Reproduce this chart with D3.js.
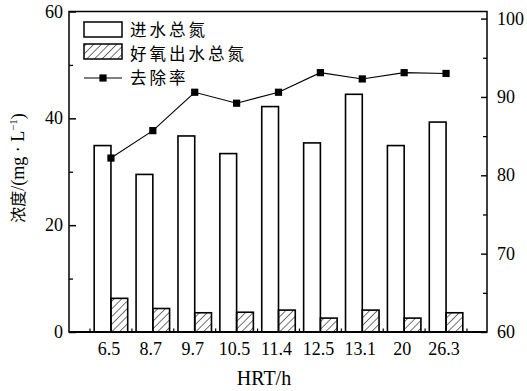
<!DOCTYPE html>
<html><head><meta charset="utf-8">
<script src="https://cdn.jsdelivr.net/npm/d3@7"></script>
<style>
html,body{margin:0;padding:0;background:#fff;}
svg{display:block;}
text{font-family:"Liberation Serif","Times New Roman",serif;fill:#000;}
.cjk{font-family:"Noto Sans CJK SC","Noto Sans CJK JP",sans-serif;}
</style></head>
<body>
<svg id="chart" width="527" height="391"></svg>
<script>
const categories = ["6.5","8.7","9.7","10.5","11.4","12.5","13.1","20","26.3"];
const influentTN = [34.9, 29.5, 36.7, 33.4, 42.2, 35.4, 44.5, 34.9, 39.3];
const aerobicTN = [6.3, 4.4, 3.6, 3.7, 4.1, 2.6, 4.1, 2.6, 3.6];
const removalRate = [82.2, 85.7, 90.6, 89.2, 90.6, 93.1, 92.3, 93.1, 93.0];
const leftTicks = [0, 20, 40, 60];
const leftMinor = [10, 30, 50];
const rightTicks = [60, 70, 80, 90, 100];
const rightMinor = [65, 75, 85, 95];
const seriesNames = ["进水总氮", "好氧出水总氮", "去除率"];

const svg = d3.select("#chart");
const L = 69, R = 487, T = 11.5, B = 332;

const defs = svg.append("defs");
defs.append("pattern").attr("id","hatch").attr("patternUnits","userSpaceOnUse")
  .attr("width",5.4).attr("height",10).attr("patternTransform","rotate(45)")
  .append("line").attr("x1",0).attr("y1",0).attr("x2",0).attr("y2",10)
  .attr("stroke","#000").attr("stroke-width",1.1);

const x = d3.scaleBand().domain(categories).range([90, 467]).padding(0);
const yL = d3.scaleLinear().domain([0, 60]).range([B, T]);
const yR = d3.scaleLinear().domain([60, 100]).range([B, 18.6]);
const bw = x.bandwidth() * 0.4;

// bars
const g = svg.append("g");
g.selectAll(".b1").data(categories).join("rect")
  .attr("x", d => x(d) + x.bandwidth()/2 - bw)
  .attr("y", (d,i) => yL(influentTN[i]))
  .attr("width", bw).attr("height", (d,i) => B - yL(influentTN[i]))
  .attr("fill","#fff").attr("stroke","#000").attr("stroke-width",1.6);
g.selectAll(".b2").data(categories).join("rect")
  .attr("x", d => x(d) + x.bandwidth()/2)
  .attr("y", (d,i) => yL(aerobicTN[i]))
  .attr("width", bw).attr("height", (d,i) => B - yL(aerobicTN[i]))
  .attr("fill","url(#hatch)").attr("stroke","#000").attr("stroke-width",1.6);

// line
const line = d3.line().x((d,i) => x(categories[i]) + x.bandwidth()/2).y(d => yR(d));
svg.append("path").datum(removalRate).attr("d", line)
  .attr("fill","none").attr("stroke","#000").attr("stroke-width",1.1);
svg.selectAll(".pt").data(removalRate).join("rect")
  .attr("x",(d,i) => x(categories[i]) + x.bandwidth()/2 - 3.6)
  .attr("y", d => yR(d) - 3.6).attr("width",7.2).attr("height",7.2).attr("fill","#000");

// frame
svg.append("rect").attr("x",L).attr("y",T).attr("width",R-L).attr("height",B-T)
  .attr("fill","none").attr("stroke","#000").attr("stroke-width",1.5);
svg.append("line").attr("x1",L).attr("x2",R).attr("y1",B).attr("y2",B)
  .attr("stroke","#000").attr("stroke-width",2.2);

// left axis (inward ticks)
const axL = svg.append("g").attr("transform",`translate(${L},0)`)
  .call(d3.axisRight(yL).tickValues(leftTicks).tickSize(7).tickFormat(""));
axL.select(".domain").remove();
axL.selectAll("line").attr("stroke-width",1.5);
svg.append("g").attr("transform",`translate(${L},0)`)
  .call(d3.axisRight(yL).tickValues(leftMinor).tickSize(4).tickFormat(""))
  .call(a => a.select(".domain").remove()).selectAll("line").attr("stroke-width",1.3);
svg.selectAll(".ll").data(leftTicks).join("text")
  .attr("x", L - 6).attr("y", d => yL(d) + 6).attr("text-anchor","end")
  .attr("font-size",18).text(d => d);

// right axis (inward ticks)
svg.append("g").attr("transform",`translate(${R},0)`)
  .call(d3.axisLeft(yR).tickValues(rightTicks).tickSize(6).tickFormat(""))
  .call(a => a.select(".domain").remove()).selectAll("line").attr("stroke-width",1.4);
svg.append("g").attr("transform",`translate(${R},0)`)
  .call(d3.axisLeft(yR).tickValues(rightMinor).tickSize(4).tickFormat(""))
  .call(a => a.select(".domain").remove()).selectAll("line").attr("stroke-width",1.3);
svg.selectAll(".rl").data(rightTicks).join("text")
  .attr("x", R + 10).attr("y", d => yR(d) + 6).attr("text-anchor","start")
  .attr("font-size",18).text(d => d);

// bottom axis: small inward ticks at band boundaries, labels at centers
const bounds = categories.map(c => x(c)).concat([x(categories[categories.length-1]) + x.bandwidth()]);
svg.selectAll(".bt").data(bounds).join("line")
  .attr("x1", d => d).attr("x2", d => d).attr("y1", B).attr("y2", B - 3.5)
  .attr("stroke","#000").attr("stroke-width",1.2);
svg.selectAll(".bl").data(categories).join("text")
  .attr("x", d => x(d) + x.bandwidth()/2 - 2).attr("y", 355).attr("text-anchor","middle")
  .attr("font-size",18).text(d => d);

// axis titles
svg.append("text").attr("x",(L+R)/2 - 14).attr("y",385).attr("text-anchor","middle")
  .attr("font-size",20).text("HRT/h");
const yt = svg.append("text").attr("transform","translate(24,168) rotate(-90)")
  .attr("text-anchor","middle").attr("font-size",18);
yt.append("tspan").attr("class","cjk").attr("font-size",16).text("浓度");
yt.append("tspan").text("/(mg · L");
yt.append("tspan").attr("font-size",11).attr("dy",-7).text("−1");
yt.append("tspan").attr("dy",7).text(")");

// legend
const lg = svg.append("g");
lg.append("rect").attr("x",84).attr("y",22).attr("width",38).attr("height",15)
  .attr("fill","#fff").attr("stroke","#000").attr("stroke-width",1.5);
lg.append("rect").attr("x",84).attr("y",44).attr("width",38).attr("height",15)
  .attr("fill","url(#hatch)").attr("stroke","#000").attr("stroke-width",1.5);
lg.append("line").attr("x1",84).attr("x2",122).attr("y1",78).attr("y2",78)
  .attr("stroke","#000").attr("stroke-width",1.2);
lg.append("rect").attr("x",99.4).attr("y",74.4).attr("width",7.2).attr("height",7.2).attr("fill","#000");
const ly = [29.5, 53.5, 78];
lg.selectAll(".lt").data(seriesNames).join("text").attr("class","cjk")
  .attr("x",130).attr("y",(d,i) => ly[i] + 6).attr("font-size",16.5)
  .attr("letter-spacing",3).text(d => d);
</script>
</body></html>
